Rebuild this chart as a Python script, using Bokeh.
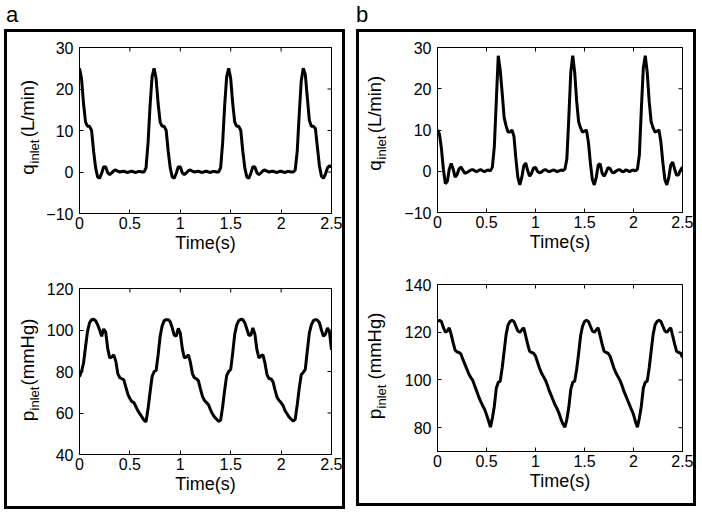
import math
from bokeh.plotting import figure
from bokeh.layouts import column, row
from bokeh.models import Div, FixedTicker, Range1d, Spacer
from bokeh.core.properties import value
from bokeh.embed import file_html
from bokeh.resources import INLINE

FONT = "Liberation Sans"

# sample times (s), every 0.02 s from 0 to 2.5
time_s = [round(i * 0.02, 2) for i in range(126)]

# panel a, inlet flow (L/min)
q_inlet_a = [
    25, 22.5, 16.5, 12, 11, 11, 10, 5, 1, -1.2,
    -1.5, -0.3, 1.3, 1.2, -0.2, -0.6, -0.2, 0.3, 0.5, 0.2,
    0.0, 0.1, 0.2, 0.0, -0.1, 0.1, 0.2, 0.0, -0.1, 0.1,
    0.1, 0.0, 0.0, 1.0, 7, 16, 23, 25, 22.5, 16.5,
    12, 11, 11, 10, 5, 1, -1.2, -1.5, -0.3, 1.3,
    1.2, -0.2, -0.6, -0.2, 0.3, 0.5, 0.2, 0.0, 0.1, 0.2,
    0.0, -0.1, 0.1, 0.2, 0.0, -0.1, 0.1, 0.1, 0.0, 0.0,
    1.0, 7, 16, 23, 25, 22.5, 16.5, 12, 11, 11,
    10, 5, 1, -1.2, -1.5, -0.3, 1.3, 1.2, -0.2, -0.6,
    -0.2, 0.3, 0.5, 0.2, 0.0, 0.1, 0.2, 0.0, -0.1, 0.1,
    0.2, 0.0, -0.1, 0.1, 0.1, 0.0, 0.0, 0.5, 5, 14,
    22, 25, 23.5, 18, 12.5, 11, 11, 10.5, 6, 1.5,
    -1.0, -1.5, -0.5, 1.0, 1.5, 1.2,
]

# panel b, inlet flow (L/min)
q_inlet_b = [
    10, 9, 5.5, 0.5, -3, -2.5, 0.5, 1.9, 0.5, -1.4,
    -0.8, 0.6, 1.0, 0.2, -0.5, -0.3, 0.0, 0.3, 0.4, 0.1,
    -0.1, 0.2, 0.4, 0.1, -0.1, 0.2, 0.3, 0.1, 1.0, 6,
    17, 28, 24.5, 19, 13, 11, 9.5, 9.5, 10, 8.5,
    3, -1.5, -3.3, -1.5, 1.3, 2.0, 0.2, -1.2, -0.5, 0.8,
    0.9, 0.0, -0.4, -0.2, 0.2, 0.4, 0.1, -0.1, 0.1, 0.3,
    0.2, -0.1, 0.1, 0.3, 0.2, 0.5, 3, 13, 24, 28,
    24, 17, 12, 10.5, 9.5, 9.7, 10, 7, 2, -2,
    -3.3, -1.5, 1.5, 1.8, -0.5, -1.2, -0.3, 0.9, 0.7, -0.2,
    -0.4, 0.0, 0.3, 0.4, 0.0, -0.1, 0.3, 0.2, -0.1, 0.2,
    0.3, 0.1, 0.5, 4, 15, 25, 28, 24, 17, 12,
    10.5, 9.5, 9.7, 10, 7, 2, -2, -3.3, -1.5, 1.5,
    2.2, 0.5, -1.0, -0.8, 0.3, 1.0,
]

# panel a, inlet pressure (mmHg)
p_inlet_a = [
    77.5, 80, 84, 92, 99.5, 103.5, 105, 105.2, 104.5, 102.5,
    100, 97, 100.5, 99, 91, 86.5, 87, 88, 85, 79,
    77, 76.5, 76, 72.5, 69, 67, 65.5, 65, 63, 61,
    59.5, 58, 56.5, 55.8, 62, 70, 77.5, 80, 80.5, 88,
    97, 102, 104.5, 105, 105, 104, 101, 97.5, 97, 100.8,
    98.5, 91, 86.5, 87, 88, 84.5, 79, 77, 76.5, 75.5,
    71.5, 68, 66, 65, 64, 61.5, 59.5, 58, 57, 56,
    56.5, 63, 71, 78, 80, 81, 89, 98, 102.5, 104.5,
    105.2, 105, 103.5, 100.5, 97.5, 97.5, 101, 98, 90.5, 86.5,
    87.5, 88, 84, 78.5, 76.5, 76.5, 75, 71, 67.5, 66,
    65, 63.5, 61, 59.5, 58, 57, 56, 57, 64, 72,
    78.5, 79.5, 81, 90, 98.5, 102.5, 104.5, 105, 104.8, 103.5,
    100, 97, 98, 101, 99, 90.5,
]

# panel b, inlet pressure (mmHg)
p_inlet_b = [
    124.5, 125, 124.5, 122, 120, 120.5, 121.8, 119, 115.5, 112.5,
    111.7, 111.5, 110.8, 108.5, 106.5, 104.5, 102.5, 101, 99.8, 97.5,
    95.3, 93, 91, 89.3, 87.7, 85.5, 83, 80.2, 84, 89,
    96.5, 99, 99.5, 105, 112, 119, 123, 124.5, 125, 124.5,
    122.5, 120.5, 120, 121, 121.8, 118.5, 115, 112, 111.5, 111.2,
    110, 107.5, 105, 103, 101.5, 100, 98, 95.5, 93.5, 91.5,
    89.5, 88, 86, 83.5, 81.5, 80.2, 83.5, 88.5, 96, 99,
    99.5, 104.5, 111, 118.5, 122.5, 124.5, 125, 124.5, 122.5, 120.5,
    120, 121, 121.8, 118.5, 115, 112, 111.5, 111.2, 110, 107.5,
    105, 103, 101.5, 100, 98, 95.5, 93.5, 91.5, 89.5, 87.5,
    85.5, 82.5, 80.2, 84, 89, 96.5, 99, 99.5, 105, 112,
    119, 123, 124.5, 125, 124.5, 122.5, 120.5, 120, 121, 121.8,
    118.5, 115, 112, 111.5, 111.2, 109.5,
]

x_ticks = [0, 0.5, 1, 1.5, 2, 2.5]
x_tick_labels = ["0", "0.5", "1", "1.5", "2", "2.5"]
q_ticks = [-10, 0, 10, 20, 30]
q_tick_labels = ["\u221210", "0", "10", "20", "30"]
pa_ticks = [40, 60, 80, 100, 120]
pb_ticks = [80, 100, 120, 140]
T_MAX = 2.5


def make_plot(values, y_range, y_ticks, y_labels, borders, frame_w, frame_h):
    left, right, top, bottom = borders
    p = figure(width=left + frame_w + right, height=top + frame_h + bottom,
               x_range=Range1d(0, T_MAX), y_range=Range1d(*y_range),
               min_border_left=left, min_border_right=right,
               min_border_top=top, min_border_bottom=bottom,
               output_backend="svg", toolbar_location=None,
               background_fill_color="white", border_fill_color="white",
               outline_line_color="black", outline_line_width=1)
    p.grid.visible = False
    p.line(time_s, values, line_color="black", line_width=3)
    # inward tick marks on the top and right edges (clipped to the frame)
    p.scatter(x_ticks, [y_range[1]] * len(x_ticks), marker="dash", size=8,
              angle=math.pi / 2, line_color="black", line_width=1)
    p.scatter([T_MAX] * len(y_ticks), y_ticks, marker="dash", size=8,
              line_color="black", line_width=1)

    xo = {t: s for t, s in zip(x_ticks, x_tick_labels)}
    yo = {t: s for t, s in zip(y_ticks, y_labels)}
    for ax in p.xaxis:
        ax.ticker = FixedTicker(ticks=x_ticks)
        ax.major_label_overrides = xo
        ax.axis_label = "Time(s)"
        ax.axis_label_text_font = FONT
        ax.axis_label_text_font_size = "18px"
        ax.axis_label_text_font_style = "normal"
        ax.axis_label_text_color = "black"
        ax.axis_label_standoff = 1
        ax.major_label_standoff = 3
    for ax in p.yaxis:
        ax.ticker = FixedTicker(ticks=y_ticks)
        ax.major_label_overrides = yo
        ax.major_label_standoff = 6
    for ax in p.axis:
        ax.major_tick_in = 4
        ax.major_tick_out = 0
        ax.minor_tick_line_color = None
        ax.axis_line_color = "black"
        ax.major_tick_line_color = "black"
        ax.major_label_text_font = FONT
        ax.major_label_text_font_size = "16px"
        ax.major_label_text_color = "black"
    return p


def make_ylabel(width, borders, frame_h, parts, x_main, x_sub, centers):
    """Rotated y label beside a plot: main letter, subscript, unit.

    The label figure uses the same top/bottom borders as its plot so that the
    two frames line up; y positions are pixels above the frame bottom."""
    top, bottom = borders
    f = figure(width=width, height=top + frame_h + bottom,
               x_range=Range1d(0, width), y_range=Range1d(0, frame_h),
               min_border_left=0, min_border_right=0,
               min_border_top=top, min_border_bottom=bottom,
               x_axis_type=None, y_axis_type=None, toolbar_location=None,
               output_backend="svg", outline_line_color=None,
               background_fill_color="white", border_fill_color="white")
    f.grid.visible = False
    sizes = ("19px", "13px", "18.5px")
    xs = (x_main, x_sub, x_main)
    for txt, sz, xx, yy in zip(parts, sizes, xs, centers):
        f.text(x=[xx], y=[yy], text=[txt], angle=math.pi / 2,
               text_font=value(FONT), text_font_size=sz, text_color="black",
               text_baseline="middle", text_align="center")
    return f


# panel a
pa1 = make_plot(q_inlet_a, (-10, 30), q_ticks, q_tick_labels, (33, 11, 15, 54), 255, 166)
pa2 = make_plot(p_inlet_a, (40, 120), pa_ticks, [str(v) for v in pa_ticks], (33, 11, 21, 52), 255, 166)
la1 = make_ylabel(36, (15, 54), 166, ("q", "inlet", "(L/min)"), 19.5, 26.5, (44, 62, 105))
la2 = make_ylabel(36, (21, 52), 166, ("p", "inlet", "(mmHg)"), 19.5, 26.5, (38.5, 56, 102.5))

# panel b
pb1 = make_plot(q_inlet_b, (-10, 30), q_ticks, q_tick_labels, (33, 11, 15, 52), 248, 165)
pb2 = make_plot(p_inlet_b, (70, 140), pb_ticks, [str(v) for v in pb_ticks], (33, 11, 20, 52), 248, 167)
lb1 = make_ylabel(42, (15, 52), 165, ("q", "inlet", "(L/min)"), 15, 22, (47, 65, 108))
lb2 = make_ylabel(42, (20, 52), 167, ("p", "inlet", "(mmHg)"), 15, 22, (37.5, 55, 105.5))

box = {"border": "3px solid black"}
lab_style = {"font-size": "22px", "line-height": "29px", "font-family": FONT, "color": "black"}
div_a = Div(text="a", width=341, height=29, margin=0, styles=dict(lab_style, **{"padding-left": "2px"}))
div_b = Div(text="b", width=340, height=29, margin=0, styles=lab_style)
col_a = column(row(la1, pa1, spacing=0), row(la2, pa2, spacing=0), spacing=0, styles=box)
col_b = column(row(lb1, pb1, spacing=0), row(lb2, pb2, spacing=0), spacing=0, styles=box)
layout = row(Spacer(width=4, height=10),
             column(div_a, col_a, spacing=0),
             Spacer(width=11, height=10),
             column(div_b, col_b, spacing=0), spacing=0)

open("out.html", "w").write(file_html(layout, INLINE))
